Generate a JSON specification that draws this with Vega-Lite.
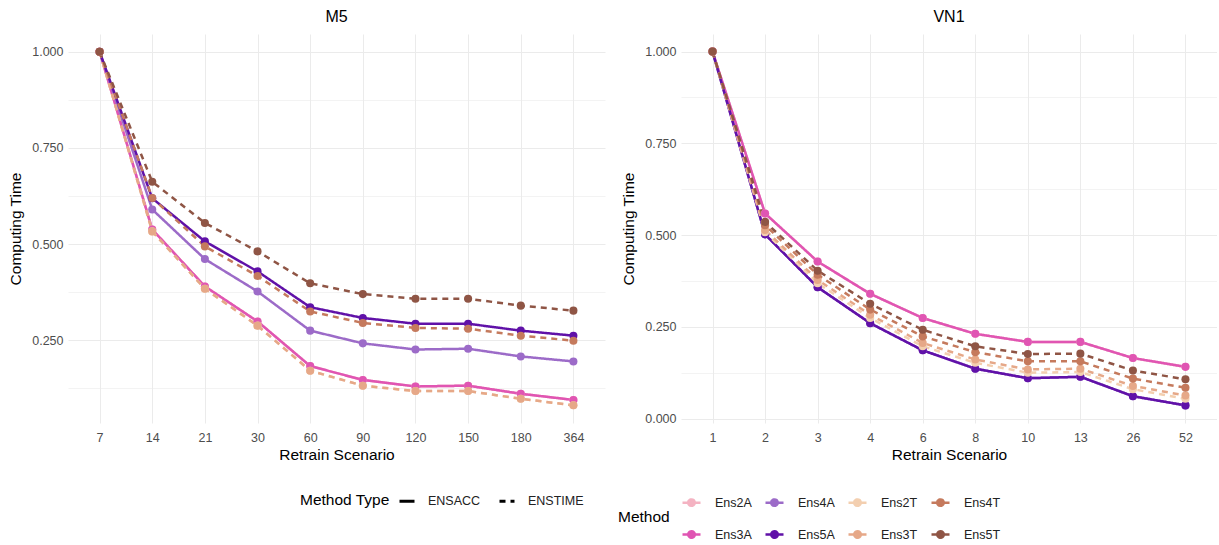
{
  "$schema": "https://vega.github.io/schema/vega-lite/v6.json",
  "background": "white",
  "padding": {"left": 8, "top": 9, "right": 0, "bottom": 0},
  "datasets": {
    "m5": [
      {"x": 7, "m": "Ens2A", "t": "ENSACC", "y": 1.0}, {"x": 14, "m": "Ens2A", "t": "ENSACC", "y": 0.538}, {"x": 21, "m": "Ens2A", "t": "ENSACC", "y": 0.390}, {"x": 30, "m": "Ens2A", "t": "ENSACC", "y": 0.299}, {"x": 60, "m": "Ens2A", "t": "ENSACC", "y": 0.183}, {"x": 90, "m": "Ens2A", "t": "ENSACC", "y": 0.147}, {"x": 120, "m": "Ens2A", "t": "ENSACC", "y": 0.130}, {"x": 150, "m": "Ens2A", "t": "ENSACC", "y": 0.132}, {"x": 180, "m": "Ens2A", "t": "ENSACC", "y": 0.111}, {"x": 364, "m": "Ens2A", "t": "ENSACC", "y": 0.095},
      {"x": 7, "m": "Ens3A", "t": "ENSACC", "y": 1.0}, {"x": 14, "m": "Ens3A", "t": "ENSACC", "y": 0.538}, {"x": 21, "m": "Ens3A", "t": "ENSACC", "y": 0.390}, {"x": 30, "m": "Ens3A", "t": "ENSACC", "y": 0.299}, {"x": 60, "m": "Ens3A", "t": "ENSACC", "y": 0.183}, {"x": 90, "m": "Ens3A", "t": "ENSACC", "y": 0.147}, {"x": 120, "m": "Ens3A", "t": "ENSACC", "y": 0.130}, {"x": 150, "m": "Ens3A", "t": "ENSACC", "y": 0.132}, {"x": 180, "m": "Ens3A", "t": "ENSACC", "y": 0.111}, {"x": 364, "m": "Ens3A", "t": "ENSACC", "y": 0.095},
      {"x": 7, "m": "Ens4A", "t": "ENSACC", "y": 1.0}, {"x": 14, "m": "Ens4A", "t": "ENSACC", "y": 0.590}, {"x": 21, "m": "Ens4A", "t": "ENSACC", "y": 0.461}, {"x": 30, "m": "Ens4A", "t": "ENSACC", "y": 0.377}, {"x": 60, "m": "Ens4A", "t": "ENSACC", "y": 0.275}, {"x": 90, "m": "Ens4A", "t": "ENSACC", "y": 0.242}, {"x": 120, "m": "Ens4A", "t": "ENSACC", "y": 0.226}, {"x": 150, "m": "Ens4A", "t": "ENSACC", "y": 0.228}, {"x": 180, "m": "Ens4A", "t": "ENSACC", "y": 0.208}, {"x": 364, "m": "Ens4A", "t": "ENSACC", "y": 0.195},
      {"x": 7, "m": "Ens5A", "t": "ENSACC", "y": 1.0}, {"x": 14, "m": "Ens5A", "t": "ENSACC", "y": 0.619}, {"x": 21, "m": "Ens5A", "t": "ENSACC", "y": 0.507}, {"x": 30, "m": "Ens5A", "t": "ENSACC", "y": 0.429}, {"x": 60, "m": "Ens5A", "t": "ENSACC", "y": 0.336}, {"x": 90, "m": "Ens5A", "t": "ENSACC", "y": 0.308}, {"x": 120, "m": "Ens5A", "t": "ENSACC", "y": 0.293}, {"x": 150, "m": "Ens5A", "t": "ENSACC", "y": 0.293}, {"x": 180, "m": "Ens5A", "t": "ENSACC", "y": 0.275}, {"x": 364, "m": "Ens5A", "t": "ENSACC", "y": 0.262},
      {"x": 7, "m": "Ens2T", "t": "ENSTIME", "y": 1.0}, {"x": 14, "m": "Ens2T", "t": "ENSTIME", "y": 0.533}, {"x": 21, "m": "Ens2T", "t": "ENSTIME", "y": 0.384}, {"x": 30, "m": "Ens2T", "t": "ENSTIME", "y": 0.288}, {"x": 60, "m": "Ens2T", "t": "ENSTIME", "y": 0.171}, {"x": 90, "m": "Ens2T", "t": "ENSTIME", "y": 0.132}, {"x": 120, "m": "Ens2T", "t": "ENSTIME", "y": 0.118}, {"x": 150, "m": "Ens2T", "t": "ENSTIME", "y": 0.118}, {"x": 180, "m": "Ens2T", "t": "ENSTIME", "y": 0.098}, {"x": 364, "m": "Ens2T", "t": "ENSTIME", "y": 0.081},
      {"x": 7, "m": "Ens3T", "t": "ENSTIME", "y": 1.0}, {"x": 14, "m": "Ens3T", "t": "ENSTIME", "y": 0.533}, {"x": 21, "m": "Ens3T", "t": "ENSTIME", "y": 0.384}, {"x": 30, "m": "Ens3T", "t": "ENSTIME", "y": 0.288}, {"x": 60, "m": "Ens3T", "t": "ENSTIME", "y": 0.171}, {"x": 90, "m": "Ens3T", "t": "ENSTIME", "y": 0.132}, {"x": 120, "m": "Ens3T", "t": "ENSTIME", "y": 0.118}, {"x": 150, "m": "Ens3T", "t": "ENSTIME", "y": 0.118}, {"x": 180, "m": "Ens3T", "t": "ENSTIME", "y": 0.098}, {"x": 364, "m": "Ens3T", "t": "ENSTIME", "y": 0.081},
      {"x": 7, "m": "Ens4T", "t": "ENSTIME", "y": 1.0}, {"x": 14, "m": "Ens4T", "t": "ENSTIME", "y": 0.620}, {"x": 21, "m": "Ens4T", "t": "ENSTIME", "y": 0.494}, {"x": 30, "m": "Ens4T", "t": "ENSTIME", "y": 0.417}, {"x": 60, "m": "Ens4T", "t": "ENSTIME", "y": 0.325}, {"x": 90, "m": "Ens4T", "t": "ENSTIME", "y": 0.295}, {"x": 120, "m": "Ens4T", "t": "ENSTIME", "y": 0.282}, {"x": 150, "m": "Ens4T", "t": "ENSTIME", "y": 0.280}, {"x": 180, "m": "Ens4T", "t": "ENSTIME", "y": 0.262}, {"x": 364, "m": "Ens4T", "t": "ENSTIME", "y": 0.249},
      {"x": 7, "m": "Ens5T", "t": "ENSTIME", "y": 1.0}, {"x": 14, "m": "Ens5T", "t": "ENSTIME", "y": 0.662}, {"x": 21, "m": "Ens5T", "t": "ENSTIME", "y": 0.555}, {"x": 30, "m": "Ens5T", "t": "ENSTIME", "y": 0.481}, {"x": 60, "m": "Ens5T", "t": "ENSTIME", "y": 0.398}, {"x": 90, "m": "Ens5T", "t": "ENSTIME", "y": 0.370}, {"x": 120, "m": "Ens5T", "t": "ENSTIME", "y": 0.358}, {"x": 150, "m": "Ens5T", "t": "ENSTIME", "y": 0.358}, {"x": 180, "m": "Ens5T", "t": "ENSTIME", "y": 0.340}, {"x": 364, "m": "Ens5T", "t": "ENSTIME", "y": 0.327}
    ],
    "vn1": [
      {"x": 1, "m": "Ens2A", "t": "ENSACC", "y": 1.0}, {"x": 2, "m": "Ens2A", "t": "ENSACC", "y": 0.559}, {"x": 3, "m": "Ens2A", "t": "ENSACC", "y": 0.428}, {"x": 4, "m": "Ens2A", "t": "ENSACC", "y": 0.340}, {"x": 6, "m": "Ens2A", "t": "ENSACC", "y": 0.274}, {"x": 8, "m": "Ens2A", "t": "ENSACC", "y": 0.231}, {"x": 10, "m": "Ens2A", "t": "ENSACC", "y": 0.209}, {"x": 13, "m": "Ens2A", "t": "ENSACC", "y": 0.209}, {"x": 26, "m": "Ens2A", "t": "ENSACC", "y": 0.165}, {"x": 52, "m": "Ens2A", "t": "ENSACC", "y": 0.141},
      {"x": 1, "m": "Ens3A", "t": "ENSACC", "y": 1.0}, {"x": 2, "m": "Ens3A", "t": "ENSACC", "y": 0.559}, {"x": 3, "m": "Ens3A", "t": "ENSACC", "y": 0.428}, {"x": 4, "m": "Ens3A", "t": "ENSACC", "y": 0.340}, {"x": 6, "m": "Ens3A", "t": "ENSACC", "y": 0.274}, {"x": 8, "m": "Ens3A", "t": "ENSACC", "y": 0.231}, {"x": 10, "m": "Ens3A", "t": "ENSACC", "y": 0.209}, {"x": 13, "m": "Ens3A", "t": "ENSACC", "y": 0.209}, {"x": 26, "m": "Ens3A", "t": "ENSACC", "y": 0.165}, {"x": 52, "m": "Ens3A", "t": "ENSACC", "y": 0.141},
      {"x": 1, "m": "Ens4A", "t": "ENSACC", "y": 1.0}, {"x": 2, "m": "Ens4A", "t": "ENSACC", "y": 0.502}, {"x": 3, "m": "Ens4A", "t": "ENSACC", "y": 0.358}, {"x": 4, "m": "Ens4A", "t": "ENSACC", "y": 0.260}, {"x": 6, "m": "Ens4A", "t": "ENSACC", "y": 0.186}, {"x": 8, "m": "Ens4A", "t": "ENSACC", "y": 0.136}, {"x": 10, "m": "Ens4A", "t": "ENSACC", "y": 0.110}, {"x": 13, "m": "Ens4A", "t": "ENSACC", "y": 0.114}, {"x": 26, "m": "Ens4A", "t": "ENSACC", "y": 0.061}, {"x": 52, "m": "Ens4A", "t": "ENSACC", "y": 0.036},
      {"x": 1, "m": "Ens5A", "t": "ENSACC", "y": 1.0}, {"x": 2, "m": "Ens5A", "t": "ENSACC", "y": 0.502}, {"x": 3, "m": "Ens5A", "t": "ENSACC", "y": 0.358}, {"x": 4, "m": "Ens5A", "t": "ENSACC", "y": 0.260}, {"x": 6, "m": "Ens5A", "t": "ENSACC", "y": 0.186}, {"x": 8, "m": "Ens5A", "t": "ENSACC", "y": 0.136}, {"x": 10, "m": "Ens5A", "t": "ENSACC", "y": 0.110}, {"x": 13, "m": "Ens5A", "t": "ENSACC", "y": 0.114}, {"x": 26, "m": "Ens5A", "t": "ENSACC", "y": 0.061}, {"x": 52, "m": "Ens5A", "t": "ENSACC", "y": 0.036},
      {"x": 1, "m": "Ens2T", "t": "ENSTIME", "y": 1.0}, {"x": 2, "m": "Ens2T", "t": "ENSTIME", "y": 0.508}, {"x": 3, "m": "Ens2T", "t": "ENSTIME", "y": 0.369}, {"x": 4, "m": "Ens2T", "t": "ENSTIME", "y": 0.274}, {"x": 6, "m": "Ens2T", "t": "ENSTIME", "y": 0.197}, {"x": 8, "m": "Ens2T", "t": "ENSTIME", "y": 0.152}, {"x": 10, "m": "Ens2T", "t": "ENSTIME", "y": 0.125}, {"x": 13, "m": "Ens2T", "t": "ENSTIME", "y": 0.127}, {"x": 26, "m": "Ens2T", "t": "ENSTIME", "y": 0.080}, {"x": 52, "m": "Ens2T", "t": "ENSTIME", "y": 0.054},
      {"x": 1, "m": "Ens3T", "t": "ENSTIME", "y": 1.0}, {"x": 2, "m": "Ens3T", "t": "ENSTIME", "y": 0.514}, {"x": 3, "m": "Ens3T", "t": "ENSTIME", "y": 0.378}, {"x": 4, "m": "Ens3T", "t": "ENSTIME", "y": 0.283}, {"x": 6, "m": "Ens3T", "t": "ENSTIME", "y": 0.206}, {"x": 8, "m": "Ens3T", "t": "ENSTIME", "y": 0.161}, {"x": 10, "m": "Ens3T", "t": "ENSTIME", "y": 0.134}, {"x": 13, "m": "Ens3T", "t": "ENSTIME", "y": 0.136}, {"x": 26, "m": "Ens3T", "t": "ENSTIME", "y": 0.089}, {"x": 52, "m": "Ens3T", "t": "ENSTIME", "y": 0.063},
      {"x": 1, "m": "Ens4T", "t": "ENSTIME", "y": 1.0}, {"x": 2, "m": "Ens4T", "t": "ENSTIME", "y": 0.527}, {"x": 3, "m": "Ens4T", "t": "ENSTIME", "y": 0.392}, {"x": 4, "m": "Ens4T", "t": "ENSTIME", "y": 0.297}, {"x": 6, "m": "Ens4T", "t": "ENSTIME", "y": 0.224}, {"x": 8, "m": "Ens4T", "t": "ENSTIME", "y": 0.181}, {"x": 10, "m": "Ens4T", "t": "ENSTIME", "y": 0.156}, {"x": 13, "m": "Ens4T", "t": "ENSTIME", "y": 0.156}, {"x": 26, "m": "Ens4T", "t": "ENSTIME", "y": 0.109}, {"x": 52, "m": "Ens4T", "t": "ENSTIME", "y": 0.084},
      {"x": 1, "m": "Ens5T", "t": "ENSTIME", "y": 1.0}, {"x": 2, "m": "Ens5T", "t": "ENSTIME", "y": 0.536}, {"x": 3, "m": "Ens5T", "t": "ENSTIME", "y": 0.403}, {"x": 4, "m": "Ens5T", "t": "ENSTIME", "y": 0.313}, {"x": 6, "m": "Ens5T", "t": "ENSTIME", "y": 0.242}, {"x": 8, "m": "Ens5T", "t": "ENSTIME", "y": 0.197}, {"x": 10, "m": "Ens5T", "t": "ENSTIME", "y": 0.176}, {"x": 13, "m": "Ens5T", "t": "ENSTIME", "y": 0.177}, {"x": 26, "m": "Ens5T", "t": "ENSTIME", "y": 0.131}, {"x": 52, "m": "Ens5T", "t": "ENSTIME", "y": 0.107}
    ]
  },
  "spacing": 16,
  "hconcat": [
    {
      "title": "M5",
      "width": 537,
      "height": 389,
      "data": {"name": "m5"},
      "encoding": {
        "x": {"field": "x", "type": "ordinal", "scale": {"type": "point", "padding": 0.6}, "axis": {"title": "Retrain Scenario", "labelAngle": 0}},
        "y": {
          "field": "y", "type": "quantitative",
          "scale": {"domain": [0.035, 1.046], "nice": false, "zero": false},
          "axis": {
            "title": "Computing Time",
            "values": [0.125, 0.25, 0.375, 0.5, 0.625, 0.75, 0.875, 1.0],
            "labelExpr": "(datum.value * 4) % 1 == 0 ? format(datum.value, '.3f') : ''",
            "gridWidth": {"condition": {"test": "(datum.value * 4) % 1 != 0", "value": 0.6}, "value": 1.2}
          }
        },
        "color": {
          "field": "m", "type": "nominal",
          "scale": {
            "domain": ["Ens2A", "Ens4A", "Ens2T", "Ens4T", "Ens3A", "Ens5A", "Ens3T", "Ens5T"],
            "range": ["#f4b3c2", "#9c6bc8", "#f3cfb0", "#c57a5d", "#e055b3", "#6011a8", "#e6a888", "#8f5545"]
          },
          "legend": {
            "title": "Method",
            "orient": "none", "legendX": 550, "legendY": 458,
            "direction": "horizontal", "columns": 4,
            "titleOrient": "left", "titleAngle": 0, "titleAnchor": "middle", "titleBaseline": "middle", "titlePadding": 11,
            "symbolType": "M-1,0H1M0.36,0A0.36,0.36,0,1,1,-0.36,0A0.36,0.36,0,1,1,0.36,0Z",
            "symbolSize": 324, "symbolStrokeWidth": 2.5,
            "rowPadding": 13, "columnPadding": 8, "labelOffset": 13,
            "encode": {"symbols": {"update": {"fill": {"scale": "color", "field": "value"}, "stroke": {"scale": "color", "field": "value"}, "strokeWidth": {"value": 2.5}, "opacity": {"value": 1}, "strokeDash": {"value": [1, 0]}}}}
          }
        }
      },
      "layer": [
        {"mark": {"type": "line", "strokeWidth": 2.5}, "encoding": {"strokeDash": {"field": "t", "type": "nominal", "title": "Method Type",
          "scale": {"domain": ["ENSACC", "ENSTIME"], "range": [[1, 0], [6, 5]]},
          "legend": {"orient": "none", "legendX": 232, "legendY": 458, "direction": "horizontal", "titleOrient": "left", "titleAngle": 0, "titleAnchor": "middle", "titleBaseline": "middle", "titlePadding": 8, "symbolType": "stroke", "symbolSize": 225, "symbolStrokeColor": "black", "symbolStrokeWidth": 3, "symbolDash": [5, 4], "columnPadding": 12, "labelOffset": 12}}}},
        {"mark": {"type": "point", "filled": true, "size": 65, "opacity": 1}}
      ]
    },
    {
      "title": "VN1",
      "width": 536,
      "height": 389,
      "data": {"name": "vn1"},
      "encoding": {
        "x": {"field": "x", "type": "ordinal", "scale": {"type": "point", "padding": 0.6}, "axis": {"title": "Retrain Scenario", "labelAngle": 0}},
        "y": {
          "field": "y", "type": "quantitative",
          "scale": {"domain": [-0.012, 1.048], "nice": false, "zero": false},
          "axis": {
            "title": "Computing Time",
            "values": [0, 0.125, 0.25, 0.375, 0.5, 0.625, 0.75, 0.875, 1.0],
            "labelExpr": "(datum.value * 4) % 1 == 0 ? format(datum.value, '.3f') : ''",
            "gridWidth": {"condition": {"test": "(datum.value * 4) % 1 != 0", "value": 0.6}, "value": 1.2}
          }
        },
        "color": {"field": "m", "type": "nominal"}
      },
      "layer": [
        {"mark": {"type": "line", "strokeWidth": 2.5}, "encoding": {"strokeDash": {"field": "t", "type": "nominal"}}},
        {"mark": {"type": "point", "filled": true, "size": 65, "opacity": 1}}
      ]
    }
  ],
  "config": {
    "font": "Liberation Sans",
    "view": {"stroke": null},
    "title": {"fontSize": 16, "fontWeight": "normal", "color": "black", "anchor": "middle", "offset": 9},
    "axis": {
      "domain": false, "ticks": false, "grid": true, "gridColor": "#ebebeb",
      "labelFontSize": 12.5, "labelColor": "#4d4d4d", "labelPadding": 8,
      "titleFontSize": 15.5, "titleFontWeight": "normal", "titleColor": "black", "titlePadding": 4
    },
    "axisY": {"titlePadding": 8, "labelPadding": 5},
    "legend": {"titleFontSize": 15.5, "titleFontWeight": "normal", "titleColor": "black", "labelFontSize": 12.5, "labelColor": "#222222"}
  }
}
